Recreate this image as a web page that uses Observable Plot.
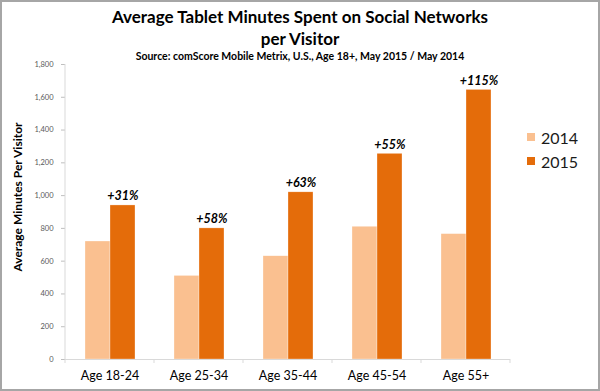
<!DOCTYPE html>
<html>
<head>
<meta charset="utf-8">
<script src="https://cdn.jsdelivr.net/npm/d3@7"></script>
<script src="https://cdn.jsdelivr.net/npm/@observablehq/plot@0.6"></script>
<style>
  html, body { margin: 0; padding: 0; background: #fff; }
  #wrap { position: relative; width: 600px; height: 391px; font-family: Lato, "Open Sans", sans-serif; overflow: hidden; }
  #border { position: absolute; left: 0; top: 0; width: 600px; height: 391px; box-sizing: border-box; border: 2px solid #a6a6a6; pointer-events: none; }
  #head { position: relative; height: 54px; text-align: center; color: #000; }
  #title { position: absolute; left: 0; right: 0; top: 6px; font-size: 17px; font-weight: bold; line-height: 22px; }
  #subtitle { position: absolute; left: 0; right: 0; top: 50px; font-size: 10.5px; font-weight: bold; line-height: 13px; z-index: 2; }
  #ylabel { position: absolute; left: 17px; top: 197px; transform: translate(-50%, -50%) rotate(-90deg); white-space: nowrap; font-size: 12px; font-weight: bold; color: #000; }
  #legend { position: absolute; left: 527px; top: 125px; font-size: 16px; color: #1a1a1a; }
  .li { display: flex; align-items: center; height: 24px; }
  .sw { width: 8px; height: 8px; margin-right: 6px; }
</style>
</head>
<body>
<div id="wrap">
  <div id="head">
    <div id="title">Average Tablet Minutes Spent on Social Networks<br>per Visitor</div>
    <div id="subtitle">Source: comScore Mobile Metrix, U.S., Age 18+, May 2015 / May 2014</div>
  </div>
  <div id="chart"></div>
  <div id="ylabel">Average Minutes Per Visitor</div>
  <div id="legend"></div>
  <div id="border"></div>
</div>
<script>
const ages = ["Age 18-24", "Age 25-34", "Age 35-44", "Age 45-54", "Age 55+"];
const years = ["2014", "2015"];
const values2014 = [720, 510, 630, 810, 765];
const values2015 = [940, 800, 1020, 1255, 1645];
const growthLabels = ["+31%", "+58%", "+63%", "+55%", "+115%"];
const yTicks = [0, 200, 400, 600, 800, 1000, 1200, 1400, 1600, 1800];
const colors = ["#FAC090", "#E46C0A"];

const data = [];
ages.forEach((a, i) => {
  data.push({age: a, year: "2014", value: values2014[i]});
  data.push({age: a, year: "2015", value: values2015[i]});
});
const labels2015 = ages.map((a, i) => ({age: a, year: "2015", value: values2015[i], label: growthLabels[i]}));

const plot = Plot.plot({
  width: 600,
  height: 337,
  marginTop: 10,
  marginBottom: 32,
  marginLeft: 64,
  marginRight: 89,
  style: {fontFamily: "Lato, 'Open Sans', sans-serif", background: "transparent"},
  fx: {domain: ages, padding: 0, label: null},
  x: {domain: years, paddingInner: 0, paddingOuter: 0.715, axis: null},
  y: {domain: [0, 1800], label: null},
  color: {domain: years, range: colors},
  marks: [
    Plot.axisY({ticks: yTicks, tickFormat: d3.format(",d"), tickSize: 4, tickPadding: 8, fontSize: 7.5, stroke: "#bfbfbf", fill: "#595959", label: null}),
    Plot.axisFx({anchor: "bottom", tickSize: 0, tickPadding: 12, fontSize: 12.5, fill: "#000", label: null}),
    Plot.barY(data, {fx: "age", x: "year", y: "value", fill: "year", stroke: "#fff", strokeWidth: 0.5, strokeOpacity: 0.6}),
    Plot.ruleY([0], {stroke: "#d9d9d9"}),
    Plot.text(labels2015, {fx: "age", x: "year", y: "value", text: "label", lineAnchor: "bottom", dy: -5, fontSize: 12.5, fontWeight: "bold", fontStyle: "italic", fill: "#000"})
  ]
});
document.getElementById("chart").appendChild(plot);

// axis line on the left and category boundary tick marks, from the plot's own scales
const fx = plot.scale("fx");
const ys = plot.scale("y");
const svg = d3.select(plot);
const y0 = ys.apply(0), y1 = ys.apply(1800);
const x0 = fx.apply(ages[0]);
svg.append("line").attr("x1", x0).attr("x2", x0).attr("y1", y1).attr("y2", y0).attr("stroke", "#d9d9d9");
const bounds = ages.map(a => fx.apply(a)).concat([fx.apply(ages[ages.length - 1]) + fx.step]);
svg.append("g").selectAll("line").data(bounds).join("line")
  .attr("x1", d => d).attr("x2", d => d).attr("y1", y0).attr("y2", y0 + 4).attr("stroke", "#d9d9d9");

const legend = d3.select("#legend");
years.forEach((yr, i) => {
  const row = legend.append("div").attr("class", "li");
  row.append("div").attr("class", "sw").style("background", colors[i]);
  row.append("span").text(yr);
});
</script>
</body>
</html>
